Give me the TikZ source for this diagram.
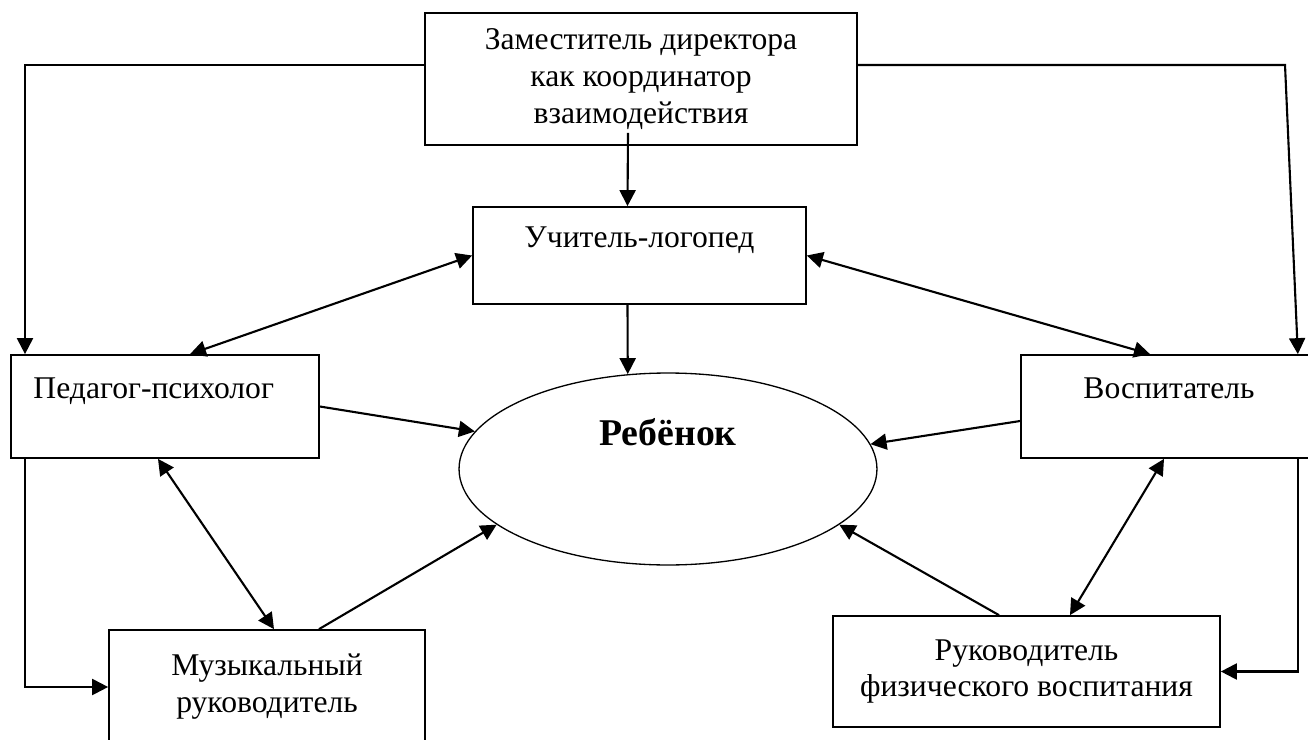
\documentclass[tikz,border=0pt]{standalone}
\usepackage{fontspec}
\setmainfont{Liberation Serif}
\usetikzlibrary{arrows.meta, shapes.geometric}

\begin{document}
\begin{tikzpicture}[x=0.02cm, y=-0.02cm,
        box/.style={draw, line width=1pt, align=center, inner sep=0pt, font=\fontsize{18}{21}\selectfont},
        child/.style={draw, ellipse, line width=0.75pt, inner sep=0pt, minimum width=8.36cm, minimum height=3.84cm},
        arr/.style={line width=1.2pt, -{Triangle[length=0.32cm, width=0.32cm]}},
        darr/.style={line width=1.2pt, {Triangle[length=0.32cm, width=0.32cm]}-{Triangle[length=0.32cm, width=0.32cm]}}]
        \useasboundingbox (0,0) rectangle (1308,740);
        \clip (0,0) rectangle (1308,740);
        % boxes
        \node[box, minimum width=8.64cm, minimum height=2.64cm] (zam) at (641,79) {Заместитель директора\\как координатор\\взаимодействия};
        \node[box, minimum width=6.66cm, minimum height=1.94cm] (log) at (639.5,255.5) {Учитель-логопед\\ \mbox{}};
        \node[box, minimum width=6.16cm, minimum height=2.06cm] (ped) at (165,406.5) {Педагог-психолог\hspace*{0.45cm}\\ \mbox{}};
        \node[box, minimum width=5.92cm, minimum height=2.06cm] (vos) at (1169,406.5) {Воспитатель\\ \mbox{}};
        \node[box, minimum width=6.32cm, minimum height=2.28cm] (mus) at (267,687) {Музыкальный\\руководитель};
        \node[box, minimum width=7.74cm, minimum height=2.22cm] (ruk) at (1026.5,671.5) {Руководитель\\физического воспитания};
        \node[child] (reb) at (668,469) {};
        \node[font=\bfseries\fontsize{21.5}{25}\selectfont] (rebt) at (668,432) {Ребёнок};
        % side lines
        \coordinate (lx) at (25,65);
        \coordinate (rx) at (1285,65);
        \coordinate (ry) at (1298,0);
        \draw[arr] (zam.west |- lx) -- (lx) -- (ped.north -| lx);
        \draw[arr] (zam.east |- rx) -- (rx) -- ([xshift=-0.4cm]vos.north east);
        \draw[arr] (ped.south -| lx) -- (mus.west -| lx) -- (mus.west);
        \draw[arr] (vos.south -| ry) -- (ruk.east -| ry) -- (ruk.east);
        % links between specialists
        \draw[arr] ([xshift=-0.26cm, yshift=0.26cm]zam.south) -- ([xshift=-0.24cm]log.north);
        \draw[darr] (log.west) -- ([xshift=0.5cm]ped.north);
        \draw[darr] (log.east) -- ([xshift=-0.38cm]vos.north);
        \draw[darr] ([xshift=-0.14cm]ped.south) -- ([xshift=0.14cm]mus.north);
        \draw[darr] ([xshift=-0.1cm]vos.south) -- ([xshift=0.87cm]ruk.north);
        % to the child
        \draw[arr] ([xshift=-0.24cm]log.south) -- (reb.113.5);
        \draw[arr] (ped.east) -- (reb.169);
        \draw[arr] ([yshift=-0.29cm]vos.west) -- (reb.7);
        \draw[arr] ([xshift=1.04cm]mus.north) -- (reb.198);
        \draw[arr] ([xshift=-0.55cm]ruk.north) -- (reb.342);
\end{tikzpicture}
\end{document}
